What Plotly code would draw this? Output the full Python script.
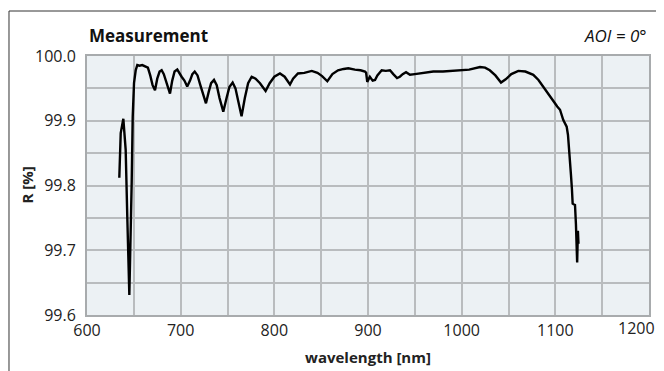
import plotly.graph_objects as go

wavelength_nm = [634.5, 636, 638.8, 641.3, 643, 645.2, 647.7, 648.8, 650.2, 652, 653.7, 656, 659, 662, 665, 667.5, 670, 672.6, 675, 677.5, 679.7, 682, 685, 688.6, 691, 693.5, 696.4, 699, 701, 704, 707, 710, 712.5, 715, 718, 721, 724, 727, 730, 732.5, 735.6, 738.5, 741.5, 745.5, 749, 752, 755.5, 758.5, 761.5, 765, 768.5, 772, 775.8, 780, 784.7, 790.7, 795, 800, 806, 811, 816.7, 820, 825.2, 832, 839.9, 846, 851, 856.6, 862, 868, 874, 879, 886, 892, 896.8, 898, 899.2, 902, 905, 907.5, 910, 914.6, 919, 923.5, 927, 931, 934, 937, 940.6, 944.8, 950, 960, 969.7, 980, 990, 998, 1008, 1019.6, 1025, 1030, 1036, 1042, 1047, 1053, 1060.5, 1068, 1076.5, 1082, 1087, 1092, 1096, 1099.6, 1102, 1105, 1108.5, 1110.5, 1112.1, 1113.5, 1114.6, 1116, 1116.7, 1117.7, 1118.5, 1119.5, 1121, 1122, 1123.3, 1124.1, 1124.4, 1124.7]
reflectance_pct = [99.812, 99.881, 99.903, 99.855, 99.752, 99.631, 99.804, 99.906, 99.958, 99.978, 99.986, 99.985, 99.986, 99.984, 99.982, 99.97, 99.955, 99.947, 99.965, 99.976, 99.978, 99.972, 99.958, 99.942, 99.962, 99.976, 99.979, 99.972, 99.968, 99.962, 99.953, 99.962, 99.972, 99.976, 99.97, 99.955, 99.94, 99.927, 99.945, 99.958, 99.963, 99.955, 99.935, 99.914, 99.935, 99.952, 99.959, 99.95, 99.93, 99.907, 99.935, 99.958, 99.968, 99.965, 99.958, 99.946, 99.958, 99.968, 99.973, 99.968, 99.956, 99.965, 99.973, 99.974, 99.977, 99.974, 99.969, 99.961, 99.972, 99.978, 99.98, 99.981, 99.979, 99.978, 99.976, 99.974, 99.960, 99.968, 99.962, 99.963, 99.97, 99.978, 99.977, 99.978, 99.972, 99.966, 99.968, 99.972, 99.975, 99.971, 99.972, 99.974, 99.976, 99.976, 99.977, 99.978, 99.979, 99.983, 99.982, 99.978, 99.970, 99.959, 99.964, 99.972, 99.977, 99.976, 99.971, 99.963, 99.953, 99.944, 99.935, 99.927, 99.922, 99.917, 99.901, 99.895, 99.891, 99.878, 99.860, 99.835, 99.816, 99.795, 99.772, 99.771, 99.770, 99.740, 99.681, 99.73, 99.72, 99.71]

x_ticks = [600, 700, 800, 900, 1000, 1100, 1200]
x_tick_labels = ["600", "700", "800", "900", "1000", "1100", "1200"]
y_ticks = [99.6, 99.7, 99.8, 99.9, 100.0]
y_tick_labels = ["99.6", "99.7", "99.8", "99.9", "100.0"]

FONT = "Open Sans"

# the last x label is drawn separately, pulled inside the canvas as in the reference
x_tick_text = x_tick_labels[:-1] + [""]

fig = go.Figure()
fig.add_trace(go.Scatter(
    x=wavelength_nm, y=reflectance_pct, mode="lines",
    line=dict(color="black", width=2.4), showlegend=False, hoverinfo="skip",
))

grid_col = "#b9bcbe"
fig.update_xaxes(
    range=[600, 1200], tickvals=x_ticks, ticktext=x_tick_text,
    showgrid=True, gridcolor=grid_col, gridwidth=1.5,
    minor=dict(dtick=50, showgrid=True, gridcolor=grid_col, gridwidth=1.5),
    showline=True, mirror=True, linecolor="#a8abad", linewidth=2,
    ticks="", zeroline=False, automargin=False,
    tickfont=dict(family=FONT, size=16, color="#222"),
    title=dict(text="<b>wavelength [nm]</b>", font=dict(family=FONT, size=15, color="#222"), standoff=12),
)
fig.update_yaxes(
    range=[99.6, 100.0], tickvals=y_ticks, ticktext=y_tick_labels,
    showgrid=True, gridcolor=grid_col, gridwidth=1.5,
    minor=dict(dtick=0.05, showgrid=True, gridcolor=grid_col, gridwidth=1.5),
    showline=True, mirror=True, linecolor="#a8abad", linewidth=2,
    ticks="", zeroline=False, ticklabelstandoff=6, automargin=False,
    tickfont=dict(family=FONT, size=16, color="#222"),
)

fig.update_layout(
    width=664, height=371,
    margin=dict(l=79, r=23, t=48, b=64),
    paper_bgcolor="white", plot_bgcolor="#ecf1f4",
    font=dict(family=FONT),
    annotations=[
        dict(text="<b>Measurement</b>", xref="paper", yref="paper", x=0, y=1.08,
             xanchor="left", yanchor="middle", showarrow=False,
             font=dict(family=FONT, size=17, color="#111")),
        dict(text="<i>AOI = 0°</i>", xref="paper", yref="paper", x=1, y=1.08,
             xanchor="right", yanchor="middle", showarrow=False,
             font=dict(family=FONT, size=17, color="#111")),
        dict(text="<b>R [%]</b>", xref="paper", yref="paper", x=-0.1085, y=0.5,
             xanchor="center", yanchor="middle", textangle=-90, showarrow=False,
             font=dict(family=FONT, size=15, color="#222")),
        dict(text=x_tick_labels[-1], xref="x", yref="paper", x=x_ticks[-1], y=0,
             xanchor="right", yanchor="middle", xshift=8, yshift=-13, showarrow=False,
             font=dict(family=FONT, size=16, color="#222")),
    ],
    shapes=[
        dict(type="line", xref="paper", yref="paper", x0=-0.1388, x1=1.1, y0=1.1737, y1=1.1737,
             line=dict(color="#333", width=1)),
        dict(type="line", xref="paper", yref="paper", x0=-0.1388, x1=-0.1388, y0=1.1737, y1=-0.25,
             line=dict(color="#333", width=1)),
    ],
)

fig.write_html("out.html")
